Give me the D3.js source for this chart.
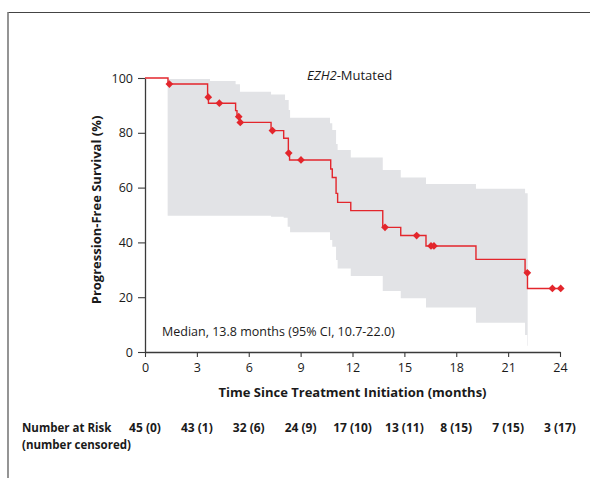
<!DOCTYPE html>
<html>
<head>
<meta charset="utf-8">
<script src="https://cdn.jsdelivr.net/npm/d3@7"></script>
<style>
  html, body { margin: 0; padding: 0; background: #fff; }
  svg { display: block; }
  text { font-family: "Open Sans", "Noto Sans", sans-serif; fill: #1a1a1a; }
</style>
</head>
<body>
<svg id="chart" width="590" height="478"></svg>
<script>
// ---- Data ----
// Kaplan-Meier step changes: time (months) and survival (%) after the step
const kmTimes    = [0, 1.33, 3.62, 3.67, 5.24, 5.32, 5.47, 7.29, 8.02, 8.29, 8.36, 10.74, 10.83, 11.05, 11.14, 11.90, 13.75, 14.79, 16.25, 19.14, 21.98, 22.12, 24.04];
const kmSurvival = [100, 97.8, 93.0, 90.8, 88.1, 85.9, 83.8, 80.8, 78.0, 72.6, 70.1, 66.8, 63.7, 57.9, 54.6, 51.6, 45.5, 42.5, 38.7, 33.8, 28.9, 23.2, 23.2];

// Censored observations
const censorTimes    = [1.41, 3.66, 4.30, 5.42, 5.51, 7.37, 8.31, 9.02, 13.88, 15.71, 16.54, 16.71, 22.11, 23.56, 24.04];
const censorSurvival = [97.8, 93.0, 90.8, 85.9, 83.8, 80.8, 72.6, 70.1, 45.5, 42.5, 38.7, 38.7, 28.9, 23.2, 23.2];

// 95% confidence band (step function)
const ciTimes = [1.31, 3.76, 5.24, 5.49, 7.29, 8.02, 8.10, 8.25, 8.31, 8.39, 10.70, 10.83, 11.05, 11.14, 11.90, 13.75, 14.79, 16.25, 19.14, 21.98, 22.10, 22.13];
const ciUpper = [99.6, 98.9, 97.7, 95.0, 94.0, 94.0, 92.0, 92.0, 88.3, 85.5, 83.5, 81.0, 75.9, 73.7, 71.0, 66.4, 63.7, 61.3, 59.6, 57.9, 57.9, 57.9];
const ciLower = [49.7, 49.7, 49.7, 49.7, 49.4, 49.0, 49.0, 45.7, 45.7, 43.7, 40.9, 38.4, 33.6, 30.5, 27.7, 22.3, 19.6, 16.2, 10.7, 6.2, 2.3, 2.3];

// Axis ticks
const xTicks = [0, 3, 6, 9, 12, 15, 18, 21, 24];
const yTicks = [0, 20, 40, 60, 80, 100];

// Number at risk (number censored) at each x tick
const riskTimes  = [0, 3, 6, 9, 12, 15, 18, 21, 24];
const riskLabels = ["45 (0)", "43 (1)", "32 (6)", "24 (9)", "17 (10)", "13 (11)", "8 (15)", "7 (15)", "3 (17)"];

// ---- Drawing ----
const svg = d3.select("#chart");
const red = "#e3262c";

// frame
svg.append("line").attr("x1", 8).attr("x2", 590).attr("y1", 12.5).attr("y2", 12.5)
  .attr("stroke", "#444").attr("stroke-width", 1);
svg.append("line").attr("x1", 8).attr("x2", 8).attr("y1", 12).attr("y2", 478)
  .attr("stroke", "#7a7a7a").attr("stroke-width", 1.6);

const x = d3.scaleLinear().domain([0, 24]).range([145, 560]);
const y = d3.scaleLinear().domain([0, 100]).range([352, 78]);

// CI band
const ciData = ciTimes.map((t, i) => ({t, u: ciUpper[i], l: ciLower[i]}));
svg.append("path")
  .datum(ciData)
  .attr("fill", "#e2e3e6")
  .attr("d", d3.area().curve(d3.curveStepAfter)
    .x(d => x(d.t)).y0(d => y(d.l)).y1(d => y(d.u)));

// axes
const axisColor = "#3a3a3a";
const yAxis = svg.append("g").attr("transform", `translate(${x(0)},0)`)
  .call(d3.axisLeft(y).tickValues(yTicks).tickSize(7).tickPadding(5).tickSizeOuter(0));
const xAxis = svg.append("g").attr("transform", `translate(0,${y(0)})`)
  .call(d3.axisBottom(x).tickValues(xTicks).tickSize(5).tickPadding(6).tickSizeOuter(0));
[xAxis, yAxis].forEach(g => {
  g.select(".domain").attr("stroke", axisColor).attr("stroke-width", 1.3);
  g.selectAll(".tick line").attr("stroke", axisColor).attr("stroke-width", 1.1);
  g.selectAll(".tick text").attr("font-family", "'Open Sans', sans-serif").attr("font-size", 12.5).attr("fill", "#1a1a1a");
});

// KM curve
const kmData = kmTimes.map((t, i) => ({t, s: kmSurvival[i]}));
svg.append("path")
  .datum(kmData)
  .attr("fill", "none")
  .attr("stroke", red)
  .attr("stroke-width", 1.4)
  .attr("d", d3.line().curve(d3.curveStepAfter).x(d => x(d.t)).y(d => y(d.s)));

// censor markers (diamonds)
const diamond = d3.symbol().type(d3.symbolDiamond2).size(38);
svg.append("g").selectAll("path")
  .data(censorTimes.map((t, i) => ({t, s: censorSurvival[i]})))
  .join("path")
  .attr("transform", d => `translate(${x(d.t)},${y(d.s)})`)
  .attr("d", diamond)
  .attr("fill", red);

// title
const title = svg.append("text").attr("x", 307).attr("y", 80).attr("font-size", 13);
title.append("tspan").attr("font-style", "italic").text("EZH2");
title.append("tspan").text("-Mutated");

// median annotation
svg.append("text").attr("x", 162).attr("y", 336).attr("font-size", 12.5)
  .text("Median, 13.8 months (95% CI, 10.7-22.0)");

// axis titles
svg.append("text")
  .attr("transform", `translate(101,210) rotate(-90)`)
  .attr("text-anchor", "middle").attr("font-size", 13).attr("font-weight", "bold")
  .text("Progression-Free Survival (%)");
svg.append("text")
  .attr("x", (x(0) + x(24)) / 2).attr("y", 397)
  .attr("text-anchor", "middle").attr("font-size", 13).attr("font-weight", "bold")
  .text("Time Since Treatment Initiation (months)");

// number at risk
svg.append("text").attr("x", 22).attr("y", 432).attr("font-size", 11.5).attr("font-weight", "bold")
  .text("Number at Risk");
svg.append("text").attr("x", 22).attr("y", 449).attr("font-size", 11.5).attr("font-weight", "bold")
  .text("(number censored)");
svg.append("g").selectAll("text")
  .data(riskTimes.map((t, i) => ({t, label: riskLabels[i]})))
  .join("text")
  .attr("x", d => x(d.t)).attr("y", 432)
  .attr("text-anchor", "middle").attr("font-size", 12).attr("font-weight", "bold")
  .text(d => d.label);
</script>
</body>
</html>
